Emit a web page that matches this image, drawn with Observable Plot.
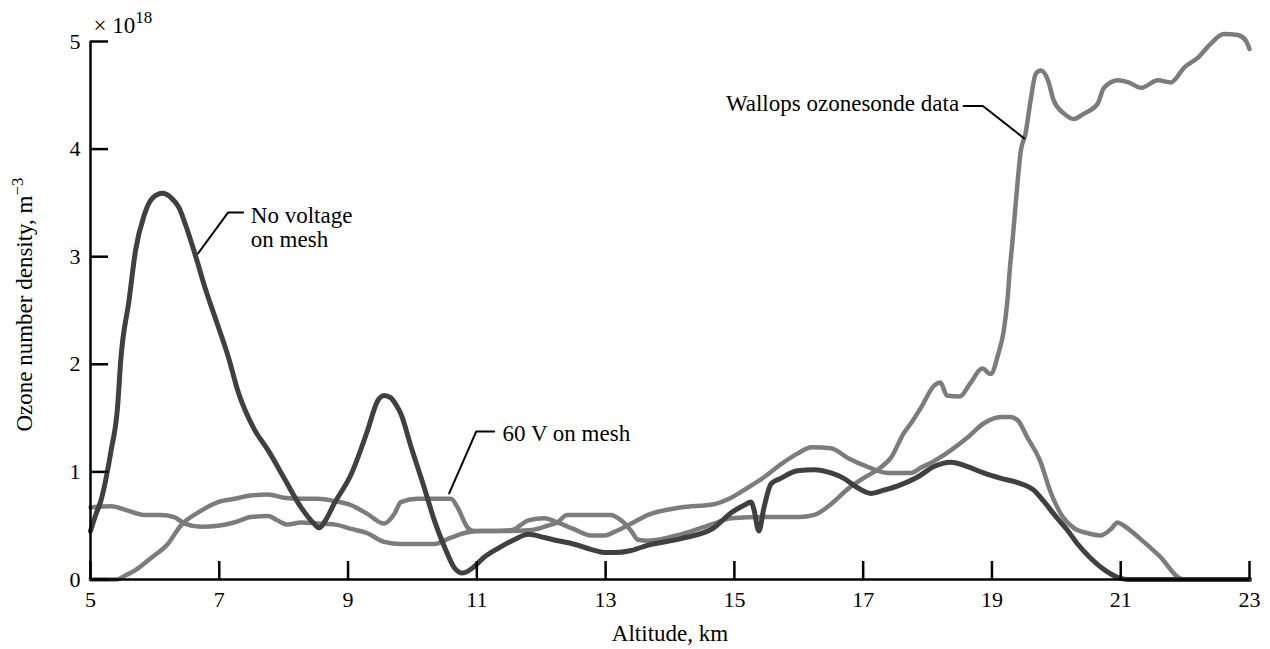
<!DOCTYPE html>
<html>
<head>
<meta charset="utf-8">
<script src="https://cdn.jsdelivr.net/npm/d3@7"></script>
<script src="https://cdn.jsdelivr.net/npm/@observablehq/plot@0.6"></script>
<style>
  html, body { margin: 0; padding: 0; background: #fff; }
  #chart svg { display: block; }
</style>
</head>
<body>
<div id="chart"></div>
<script>
// Axis ticks
const altitudeTicks = [5, 7, 9, 11, 13, 15, 17, 19, 21, 23];
const densityTicks = [0, 1, 2, 3, 4, 5];

// Axis titles and exponent
const xTitle = "Altitude, km";
const yTitle = "Ozone number density, m";
const yTitleExponent = "\u22123";
const scaleText = "\u00d7 10";
const scaleExponent = "18";

// Ozone number density profiles (units of 10^18 m^-3) against altitude (km)
const noVoltageAlt = [5.0, 5.08, 5.16, 5.32, 5.42, 5.47, 5.6, 5.7, 5.83, 5.97, 6.12, 6.25, 6.37, 6.48, 6.64, 6.79, 6.95, 7.15, 7.29, 7.54, 7.76, 8.0, 8.27, 8.47, 8.55, 8.65, 8.78, 9.05, 9.3, 9.46, 9.56, 9.66, 9.75, 9.82, 9.98, 10.18, 10.34, 10.5, 10.65, 10.78, 10.96, 11.1, 11.33, 11.58, 11.8, 12.05, 12.26, 12.5, 12.77, 13.0, 13.13, 13.4, 13.66, 14.17, 14.68, 14.95, 15.15, 15.26, 15.3, 15.38, 15.46, 15.57, 15.72, 15.98, 16.24, 16.5, 16.7, 16.92, 17.12, 17.32, 17.54, 17.84, 18.1, 18.36, 18.62, 18.87, 19.14, 19.4, 19.65, 19.8, 20.0, 20.17, 20.33, 20.53, 20.77, 21.0, 21.1, 23.0];
const noVoltageDensity = [0.45, 0.6, 0.73, 1.2, 1.6, 2.04, 2.6, 3.06, 3.38, 3.55, 3.59, 3.55, 3.46, 3.29, 2.99, 2.69, 2.41, 2.05, 1.75, 1.4, 1.2, 0.95, 0.67, 0.52, 0.48, 0.55, 0.7, 0.98, 1.38, 1.66, 1.71, 1.69, 1.62, 1.54, 1.23, 0.86, 0.55, 0.3, 0.11, 0.06, 0.12, 0.2, 0.29, 0.37, 0.42, 0.39, 0.36, 0.33, 0.28, 0.25, 0.25, 0.27, 0.32, 0.38, 0.48, 0.62, 0.69, 0.72, 0.66, 0.45, 0.67, 0.89, 0.94, 1.01, 1.02, 0.99, 0.94, 0.85, 0.8, 0.83, 0.87, 0.95, 1.05, 1.09, 1.05, 0.99, 0.94, 0.9, 0.83, 0.73, 0.58, 0.46, 0.33, 0.2, 0.08, 0.01, 0, 0];

const meshAlt = [5.0, 5.4, 5.55, 5.68, 5.94, 6.2, 6.4, 6.72, 6.98, 7.23, 7.49, 7.76, 8.0, 8.27, 8.53, 8.78, 9.05, 9.3, 9.56, 9.72, 9.82, 10.08, 10.6, 10.7, 10.86, 10.96, 11.3, 11.55, 11.8, 12.05, 12.25, 12.5, 12.77, 13.0, 13.13, 13.4, 13.66, 14.17, 14.68, 14.95, 15.2, 15.46, 15.72, 15.98, 16.2, 16.5, 16.76, 17.1, 17.38, 17.74, 17.9, 18.1, 18.36, 18.62, 18.87, 19.14, 19.29, 19.4, 19.55, 19.75, 19.9, 20.07, 20.27, 20.49, 20.69, 20.85, 20.95, 21.05, 21.3, 21.6, 21.97, 23.0];
const meshDensity = [0.0, 0.0, 0.04, 0.08, 0.2, 0.33, 0.5, 0.64, 0.72, 0.75, 0.78, 0.79, 0.76, 0.75, 0.75, 0.73, 0.69, 0.61, 0.52, 0.61, 0.72, 0.75, 0.75, 0.67, 0.48, 0.45, 0.45, 0.46, 0.55, 0.57, 0.53, 0.47, 0.41, 0.41, 0.44, 0.52, 0.6, 0.67, 0.7, 0.76, 0.85, 0.95, 1.07, 1.17, 1.23, 1.22, 1.13, 1.04, 0.99, 0.99, 1.04, 1.1, 1.2, 1.32, 1.45, 1.51, 1.51, 1.48, 1.32, 1.1, 0.83, 0.61, 0.48, 0.43, 0.41, 0.47, 0.53, 0.5, 0.38, 0.22, 0.0, 0.0];

const wallopsAlt = [5.0, 5.32, 5.58, 5.83, 6.09, 6.3, 6.46, 6.72, 6.98, 7.23, 7.49, 7.76, 7.9, 8.06, 8.27, 8.53, 8.8, 9.05, 9.3, 9.56, 9.82, 10.1, 10.34, 10.6, 10.86, 11.06, 11.5, 11.85, 12.1, 12.25, 12.4, 12.77, 13.08, 13.24, 13.4, 13.5, 13.66, 14.17, 14.68, 14.95, 15.46, 16.0, 16.24, 16.5, 16.76, 17.0, 17.27, 17.43, 17.63, 17.74, 17.9, 18.1, 18.2, 18.3, 18.5, 18.66, 18.85, 18.98, 19.1, 19.18, 19.24, 19.28, 19.32, 19.37, 19.45, 19.52, 19.6, 19.68, 19.76, 19.87, 19.96, 20.12, 20.27, 20.43, 20.64, 20.74, 20.96, 21.12, 21.32, 21.58, 21.78, 21.99, 22.2, 22.4, 22.6, 22.82, 22.94, 23.0];
const wallopsDensity = [0.67, 0.68, 0.64, 0.6, 0.6, 0.58, 0.52, 0.49, 0.5, 0.53, 0.58, 0.59, 0.55, 0.51, 0.53, 0.52, 0.51, 0.47, 0.43, 0.35, 0.33, 0.33, 0.33, 0.39, 0.44, 0.45, 0.45, 0.46, 0.5, 0.53, 0.6, 0.6, 0.6, 0.55, 0.45, 0.37, 0.36, 0.42, 0.52, 0.57, 0.58, 0.58, 0.6, 0.7, 0.84, 0.94, 1.04, 1.13, 1.36, 1.45, 1.6, 1.8, 1.83, 1.71, 1.7, 1.82, 1.96, 1.91, 2.1, 2.3, 2.59, 2.9, 3.15, 3.5, 3.99, 4.14, 4.45, 4.7, 4.73, 4.64, 4.45, 4.33, 4.28, 4.33, 4.42, 4.57, 4.64, 4.62, 4.57, 4.64, 4.62, 4.76, 4.85, 4.98, 5.07, 5.06, 5.01, 4.93];

// Callout labels and their leader lines (curve point -> elbow -> end near the text)
const calloutText = ["No voltage\non mesh", "60 V on mesh", "Wallops ozonesonde data"];
const calloutAnchor = ["start", "start", "end"];
const calloutCurveAlt = [6.67, 10.57, 19.5];
const calloutCurveDensity = [3.03, 0.8, 4.1];
const calloutElbowAlt = [7.135, 10.99, 18.86];
const calloutElbowDensity = [3.41, 1.375, 4.4];
const calloutEndAlt = [7.37, 11.27, 18.56];
const calloutTextAlt = [7.49, 11.4, 18.49];
const calloutTextDensity = [3.27, 1.36, 4.43];

const rows = (alt, dens) => alt.map((a, i) => ({alt: a, density: dens[i]}));
const noVoltageRows = rows(noVoltageAlt, noVoltageDensity);
const meshRows = rows(meshAlt, meshDensity);
const wallopsRows = rows(wallopsAlt, wallopsDensity);

const leaderRows = calloutText.flatMap((t, i) => [
  {id: i, alt: calloutCurveAlt[i], density: calloutCurveDensity[i]},
  {id: i, alt: calloutElbowAlt[i], density: calloutElbowDensity[i]},
  {id: i, alt: calloutEndAlt[i], density: calloutElbowDensity[i]}
]);
const labelRows = calloutText.map((t, i) => ({
  text: t, anchor: calloutAnchor[i], alt: calloutTextAlt[i], density: calloutTextDensity[i]
}));

const serif = '"Liberation Serif", "Times New Roman", Times, serif';

// frame geometry
const W = 1270, H = 649;
const mLeft = 90, mRight = 21, mTop = 41, mBottom = 70;
const frameW = W - mLeft - mRight, frameH = H - mTop - mBottom;
const tickLen = 18;

const calloutMark = (anchor) => Plot.text(labelRows.filter((d) => d.anchor === anchor), {
  x: "alt", y: "density", text: "text", textAnchor: anchor, lineAnchor: "middle",
  lineHeight: 1.05, fontSize: 23, fill: "#000"
});

const chart = Plot.plot({
  width: W,
  height: H,
  marginLeft: mLeft,
  marginRight: mRight,
  marginTop: mTop,
  marginBottom: mBottom,
  style: {fontFamily: serif, fontSize: "22px", color: "#000", background: "#fff"},
  x: {domain: [5, 23]},
  y: {domain: [0, 5]},
  marks: [
    // profiles
    Plot.line(wallopsRows, {x: "alt", y: "density", stroke: "url(#halftone-light)", strokeWidth: 4.5, curve: "monotone-x"}),
    Plot.line(meshRows, {x: "alt", y: "density", stroke: "url(#halftone-light)", strokeWidth: 4.5, curve: "monotone-x"}),
    Plot.line(noVoltageRows, {x: "alt", y: "density", stroke: "url(#halftone-dark)", strokeWidth: 5, curve: "monotone-x"}),
    // inward ticks
    Plot.tickX(altitudeTicks, {x: (d) => d, insetTop: frameH - tickLen, strokeWidth: 2.5, stroke: "#000"}),
    Plot.tickY(densityTicks, {y: (d) => d, insetRight: frameW - tickLen, strokeWidth: 2.5, stroke: "#000"}),
    // tick labels
    Plot.axisX(altitudeTicks, {tickSize: 0, tickPadding: 12, label: null, fontSize: 22, tickFormat: (d) => String(d)}),
    Plot.axisY(densityTicks, {tickSize: 0, tickPadding: 10, label: null, fontSize: 22, tickFormat: (d) => String(d)}),
    // axis lines
    Plot.ruleY([0], {strokeWidth: 2.5}),
    Plot.ruleX([5], {strokeWidth: 2.5}),
    // callouts
    Plot.line(leaderRows, {x: "alt", y: "density", z: "id", stroke: "#000", strokeWidth: 2, curve: "linear"}),
    calloutMark("start"),
    calloutMark("end"),
    // axis titles
    Plot.text([xTitle], {frameAnchor: "bottom", text: (d) => d, textAnchor: "middle", lineAnchor: "middle", dy: 54, fontSize: 23, fill: "#000"}),
    Plot.text([yTitle], {frameAnchor: "left", text: (d) => d, textAnchor: "middle", lineAnchor: "middle", rotate: -90, dx: -66, dy: -6, fontSize: 23, fill: "#000"}),
    Plot.text([scaleText], {frameAnchor: "top-left", text: (d) => d, textAnchor: "start", lineAnchor: "middle", dx: 3, dy: -16, fontSize: 23, fill: "#000"})
  ]
});

// halftone patterns used for the profile strokes
const defs = d3.select(chart).insert("defs", ":first-child");
const dark = defs.append("pattern").attr("id", "halftone-dark").attr("patternUnits", "userSpaceOnUse").attr("width", 2).attr("height", 2);
dark.append("rect").attr("width", 2).attr("height", 2).attr("fill", "#1a1a1a");
dark.append("rect").attr("width", 1).attr("height", 1).attr("fill", "#b0b0b0");
const light = defs.append("pattern").attr("id", "halftone-light").attr("patternUnits", "userSpaceOnUse").attr("width", 2).attr("height", 2);
light.append("rect").attr("width", 2).attr("height", 2).attr("fill", "#242424");
light.append("rect").attr("width", 1).attr("height", 1).attr("fill", "#d4d4d4");
light.append("rect").attr("x", 1).attr("y", 1).attr("width", 1).attr("height", 1).attr("fill", "#d4d4d4");

// superscripts on the scale note and the y title
d3.select(chart).selectAll("text").each(function () {
  const t = d3.select(this);
  if (this.textContent === scaleText) {
    t.append("tspan").attr("dy", -10).attr("font-size", 17).text(scaleExponent);
  } else if (this.textContent === yTitle) {
    t.append("tspan").attr("dy", -9).attr("font-size", 17).text(yTitleExponent);
  }
});

document.getElementById("chart").appendChild(chart);
</script>
</body>
</html>
